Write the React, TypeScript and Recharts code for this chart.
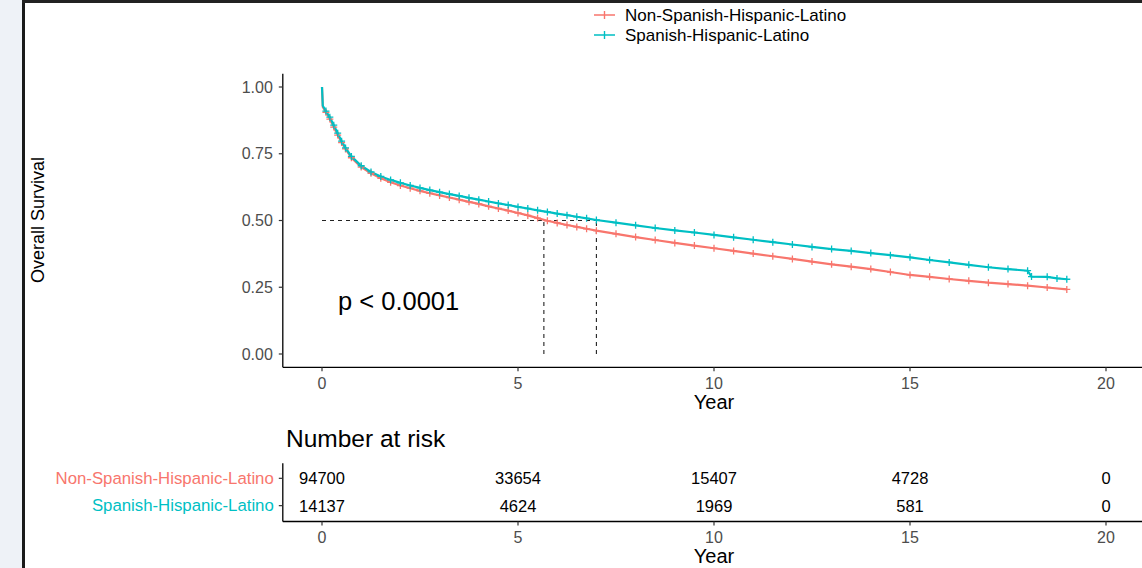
import React from 'react';
import { LineChart, Line, XAxis, YAxis, ReferenceLine, ScatterChart, Scatter } from 'recharts';

const RED = '#F8766D';
const TEAL = '#00BFC4';
const FONT = '"Liberation Sans", Arial, Helvetica, sans-serif';

const groupNames = ['Non-Spanish-Hispanic-Latino', 'Spanish-Hispanic-Latino'];

const timesNon = [0, 0.02, 0.1, 0.2, 0.3, 0.4, 0.5, 0.6, 0.75,
  1, 1.25, 1.5, 1.75, 2, 2.25, 2.5, 2.75, 3, 3.25, 3.5, 3.75, 4, 4.25, 4.5, 4.75, 5, 5.25, 5.5, 5.75, 6, 6.25, 6.5, 6.75, 7,
  7.5, 8, 8.5, 9, 9.5, 10, 10.5, 11, 11.5, 12, 12.5, 13, 13.5, 14, 14.5, 15, 15.5, 16, 16.5, 17, 17.5, 18, 18.5, 19];
const survNon = [1, 0.925, 0.905, 0.88, 0.85, 0.82, 0.792, 0.768, 0.735,
  0.70, 0.677, 0.658, 0.643, 0.631, 0.621, 0.611, 0.602, 0.594, 0.586, 0.578, 0.570, 0.562, 0.553, 0.545, 0.537, 0.528, 0.519, 0.509, 0.499, 0.491, 0.483, 0.476, 0.469, 0.462,
  0.450, 0.438, 0.427, 0.416, 0.406, 0.396, 0.386, 0.376, 0.366, 0.356, 0.346, 0.336, 0.327, 0.318, 0.307, 0.296, 0.289, 0.281, 0.274, 0.267, 0.262, 0.256, 0.249, 0.242];

const timesSp = [0, 0.02, 0.1, 0.2, 0.3, 0.4, 0.5, 0.6, 0.75,
  1, 1.25, 1.5, 1.75, 2, 2.25, 2.5, 2.75, 3, 3.25, 3.5, 3.75, 4, 4.25, 4.5, 4.75, 5, 5.25, 5.5, 5.75, 6, 6.25, 6.5, 6.75, 7,
  7.5, 8, 8.5, 9, 9.5, 10, 10.5, 11, 11.5, 12, 12.5, 13, 13.5, 14, 14.5, 15, 15.5, 16, 16.5, 17, 17.5, 18, 18.1, 18.5, 18.75, 19];
const survSp = [1, 0.93, 0.91, 0.887, 0.857, 0.827, 0.797, 0.772, 0.74,
  0.705, 0.682, 0.665, 0.652, 0.641, 0.631, 0.622, 0.614, 0.606, 0.599, 0.592, 0.585, 0.578, 0.571, 0.564, 0.558, 0.551, 0.545, 0.538, 0.532, 0.526, 0.520, 0.514, 0.508, 0.502,
  0.492, 0.482, 0.472, 0.463, 0.455, 0.446, 0.437, 0.428, 0.419, 0.410, 0.401, 0.393, 0.386, 0.378, 0.370, 0.362, 0.352, 0.343, 0.334, 0.325, 0.318, 0.312, 0.29, 0.289, 0.283, 0.28];

const xTicks = [0, 5, 10, 15, 20];
const yTicks = [0, 0.25, 0.5, 0.75, 1];
const medianNon = 5.66;
const medianSp = 7.0;

const riskTimes = [0, 5, 10, 15, 20];
const riskNon = [94700, 33654, 15407, 4728, 0];
const riskSp = [14137, 4624, 1969, 581, 0];

const dataNon = timesNon.map((t, i) => ({ t, s: survNon[i] }));
const dataSp = timesSp.map((t, i) => ({ t, s: survSp[i] }));
const riskRowsNon = riskTimes.map((t, i) => ({ t, r: 2, n: riskNon[i] }));
const riskRowsSp = riskTimes.map((t, i) => ({ t, r: 1, n: riskSp[i] }));

const plusDot = (color: string) => (props: any) => {
  const { cx, cy, index, payload } = props;
  if (cx == null || cy == null || (payload && payload.t < 0.05)) return <g key={`d${index}`} />;
  return (
    <path key={`d${index}`} d={`M${cx - 3.5},${cy}h7M${cx},${cy - 3.5}v7`} stroke={color} strokeWidth={1.3} fill="none" />
  );
};

const tickStyle = { fill: '#4d4d4d', fontSize: 16, fontFamily: FONT };

const RiskYTick = (props: any) => {
  const { x, y, payload } = props;
  const isNon = payload.value === 2;
  return (
    <text x={x} y={y} textAnchor="end" dominantBaseline="central" fontSize={16.8} fontFamily={FONT} fill={isNon ? RED : TEAL}>
      {isNon ? groupNames[0] : groupNames[1]}
    </text>
  );
};

const RiskCell = (props: any) => {
  const { cx, cy, payload } = props;
  return (
    <text x={cx} y={cy} textAnchor="middle" dominantBaseline="central" fontSize={16.5} fontFamily={FONT} fill="#000">
      {payload.n}
    </text>
  );
};

export default function App() {
  const mainH = 400;
  const riskTop = 440;
  const riskH = 128;
  return (
    <div style={{ position: 'fixed', left: 0, top: 0, width: 1142, height: 568, overflow: 'hidden', background: '#fff', fontFamily: FONT }}>
      <div style={{ position: 'absolute', left: 0, top: 0, width: 22, height: 568, background: '#eef2f7' }} />
      <div style={{ position: 'absolute', left: 22, top: 0, width: 2.5, height: 568, background: '#1a1a1a' }} />
      <div style={{ position: 'absolute', left: 22, top: 0, width: 1120, height: 3, background: '#222' }} />

      <div style={{ position: 'absolute', left: 0, top: 0 }}>
        <LineChart width={1146} height={mainH} margin={{ top: 73.65, right: 0.8, bottom: 2.65, left: 222.8 }}>
          <XAxis
            type="number"
            dataKey="t"
            domain={[-1, 21]}
            ticks={xTicks}
            allowDataOverflow
            height={30}
            tickSize={4}
            tickMargin={6}
            tick={tickStyle}
            axisLine={{ stroke: '#000', strokeWidth: 1.3 }}
            tickLine={{ stroke: '#333', strokeWidth: 1.2 }}
          />
          <YAxis
            type="number"
            dataKey="s"
            domain={[-0.05, 1.05]}
            ticks={yTicks}
            allowDataOverflow
            width={60}
            tickSize={4}
            tickMargin={6}
            tickFormatter={(v: number) => v.toFixed(2)}
            tick={tickStyle}
            axisLine={{ stroke: '#000', strokeWidth: 1.3 }}
            tickLine={{ stroke: '#333', strokeWidth: 1.2 }}
          />
          <ReferenceLine segment={[{ x: 0, y: 0.5 }, { x: medianSp, y: 0.5 }]} stroke="#222" strokeDasharray="4 4" strokeWidth={1.1} />
          <ReferenceLine segment={[{ x: medianNon, y: 0 }, { x: medianNon, y: 0.5 }]} stroke="#222" strokeDasharray="4 4" strokeWidth={1.1} />
          <ReferenceLine segment={[{ x: medianSp, y: 0 }, { x: medianSp, y: 0.5 }]} stroke="#222" strokeDasharray="4 4" strokeWidth={1.1} />
          <Line
            data={dataNon}
            dataKey="s"
            type="linear"
            stroke={RED}
            strokeWidth={2.2}
            dot={plusDot(RED)}
            isAnimationActive={false}
          />
          <Line
            data={dataSp}
            dataKey="s"
            type="linear"
            stroke={TEAL}
            strokeWidth={2.2}
            dot={plusDot(TEAL)}
            isAnimationActive={false}
          />
        </LineChart>
      </div>

      <div style={{ position: 'absolute', left: 0, top: riskTop }}>
        <ScatterChart width={1146} height={riskH} margin={{ top: 23.3, right: 0.8, bottom: 128 - 81.5 - 30, left: 222.8 }}>
          <XAxis
            type="number"
            dataKey="t"
            domain={[-1, 21]}
            ticks={xTicks}
            allowDataOverflow
            height={30}
            tickSize={4}
            tickMargin={6}
            tick={tickStyle}
            axisLine={{ stroke: '#000', strokeWidth: 1.3 }}
            tickLine={{ stroke: '#333', strokeWidth: 1.2 }}
          />
          <YAxis
            type="number"
            dataKey="r"
            domain={[0.42, 2.55]}
            ticks={[1, 2]}
            allowDataOverflow
            width={60}
            tickSize={4}
            tickMargin={5}
            tick={<RiskYTick />}
            axisLine={{ stroke: '#000', strokeWidth: 1.3 }}
            tickLine={{ stroke: '#333', strokeWidth: 1.2 }}
          />
          <Scatter data={riskRowsNon} shape={<RiskCell />} isAnimationActive={false} />
          <Scatter data={riskRowsSp} shape={<RiskCell />} isAnimationActive={false} />
        </ScatterChart>
      </div>

      <svg width={1142} height={568} style={{ position: 'absolute', left: 0, top: 0, pointerEvents: 'none' }}>
        <text x={0} y={0} transform="translate(38,220) rotate(-90)" textAnchor="middle" dominantBaseline="central" fontSize={18} fontFamily={FONT} fill="#000">
          Overall Survival
        </text>
        <text x={714} y={402} textAnchor="middle" dominantBaseline="central" fontSize={20} fontFamily={FONT} fill="#000">Year</text>
        <text x={714} y={556} textAnchor="middle" dominantBaseline="central" fontSize={20} fontFamily={FONT} fill="#000">Year</text>
        <text x={286} y={438.5} dominantBaseline="central" fontSize={24.5} fontFamily={FONT} fill="#000">Number at risk</text>
        <text x={338} y={310} fontSize={25.5} fontFamily={FONT} fill="#000">p &lt; 0.0001</text>
        <g>
          <path d="M594,15h21M604.5,11v8" stroke={RED} strokeWidth={1.4} fill="none" />
          <text x={625} y={15} dominantBaseline="central" fontSize={17} fontFamily={FONT} fill="#000">{groupNames[0]}</text>
          <path d="M594,35h21M604.5,31v8" stroke={TEAL} strokeWidth={1.4} fill="none" />
          <text x={625} y={35} dominantBaseline="central" fontSize={17} fontFamily={FONT} fill="#000">{groupNames[1]}</text>
        </g>
      </svg>
    </div>
  );
}
